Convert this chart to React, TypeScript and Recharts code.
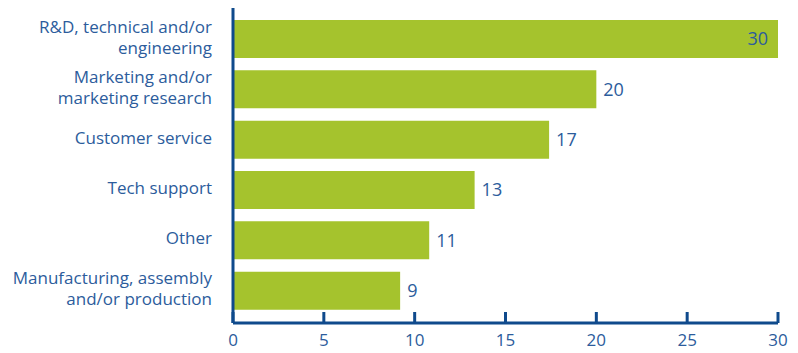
import React from 'react';
import { BarChart, Bar, XAxis, YAxis, LabelList } from 'recharts';

// categories, top to bottom ('\n' marks the line break of the axis label)
const categories = [
    'R&D, technical and/or\nengineering',
    'Marketing and/or\nmarketing research',
    'Customer service',
    'Tech support',
    'Other',
    'Manufacturing, assembly\nand/or production',
];
// bar lengths as drawn, and the rounded numbers printed next to them
const values = [30, 20, 17.4, 13.3, 10.8, 9.2];
const labels = [30, 20, 17, 13, 11, 9];
const xTicks = [0, 5, 10, 15, 20, 25, 30];

const data = categories.map((name, i) => ({ name, value: values[i], label: labels[i] }));

const GREEN = '#a5c32d';
const BLUE = '#2c5c9c';
const AXIS = '#0f4a8c';
const FONT = '"Open Sans", sans-serif';

const YTick = (props: any) => {
    const { x, y, payload } = props;
    const lines = String(payload.value).split('\n');
    const lh = 21;
    const startY = y - ((lines.length - 1) * lh) / 2 - 2;
    return (
        <text x={x} y={startY} textAnchor="end" fill={BLUE} fontSize={17} fontFamily={FONT}>
            {lines.map((l, i) => (
                <tspan key={i} x={x} y={startY + i * lh} dy="0.35em">{l}</tspan>
            ))}
        </text>
    );
};

const XTick = (props: any) => {
    const { x, y, payload } = props;
    return (
        <g>
            <line x1={x} y1={y} x2={x} y2={y - 11} stroke={AXIS} strokeWidth={3} />
            <text x={x} y={y + 23} textAnchor="middle" fill={BLUE} fontSize={17} fontFamily={FONT}>
                {payload.value}
            </text>
        </g>
    );
};

const ValueLabel = (props: any) => {
    const { x, y, width, height, value, index } = props;
    const inside = index === 0;
    return (
        <text
            x={inside ? x + width - 10 : x + width + 7}
            y={y + height / 2}
            dy="0.35em"
            textAnchor={inside ? 'end' : 'start'}
            fill={BLUE}
            fontSize={18}
            fontFamily={FONT}
        >
            {value}
        </text>
    );
};

export default function App() {
    return (
        <div>
            <style>{'body{margin:0}'}</style>
            <BarChart
                width={798}
                height={353}
                data={data}
                layout="vertical"
                margin={{ top: 8, right: 20, left: 0, bottom: 0 }}
            >
                <XAxis
                    type="number"
                    domain={[0, 30]}
                    ticks={xTicks}
                    height={30}
                    axisLine={{ stroke: AXIS, strokeWidth: 3 }}
                    tickLine={false}
                    tickSize={0}
                    tickMargin={0}
                    tick={<XTick />}
                    interval={0}
                />
                <YAxis
                    type="category"
                    dataKey="name"
                    width={233}
                    padding={{ top: 6, bottom: 7 }}
                    axisLine={{ stroke: AXIS, strokeWidth: 3 }}
                    tickLine={false}
                    tickSize={0}
                    tickMargin={21}
                    tick={<YTick />}
                    interval={0}
                />
                <Bar dataKey="value" fill={GREEN} barSize={38} isAnimationActive={false}>
                    <LabelList dataKey="label" content={<ValueLabel />} />
                </Bar>
            </BarChart>
        </div>
    );
}
